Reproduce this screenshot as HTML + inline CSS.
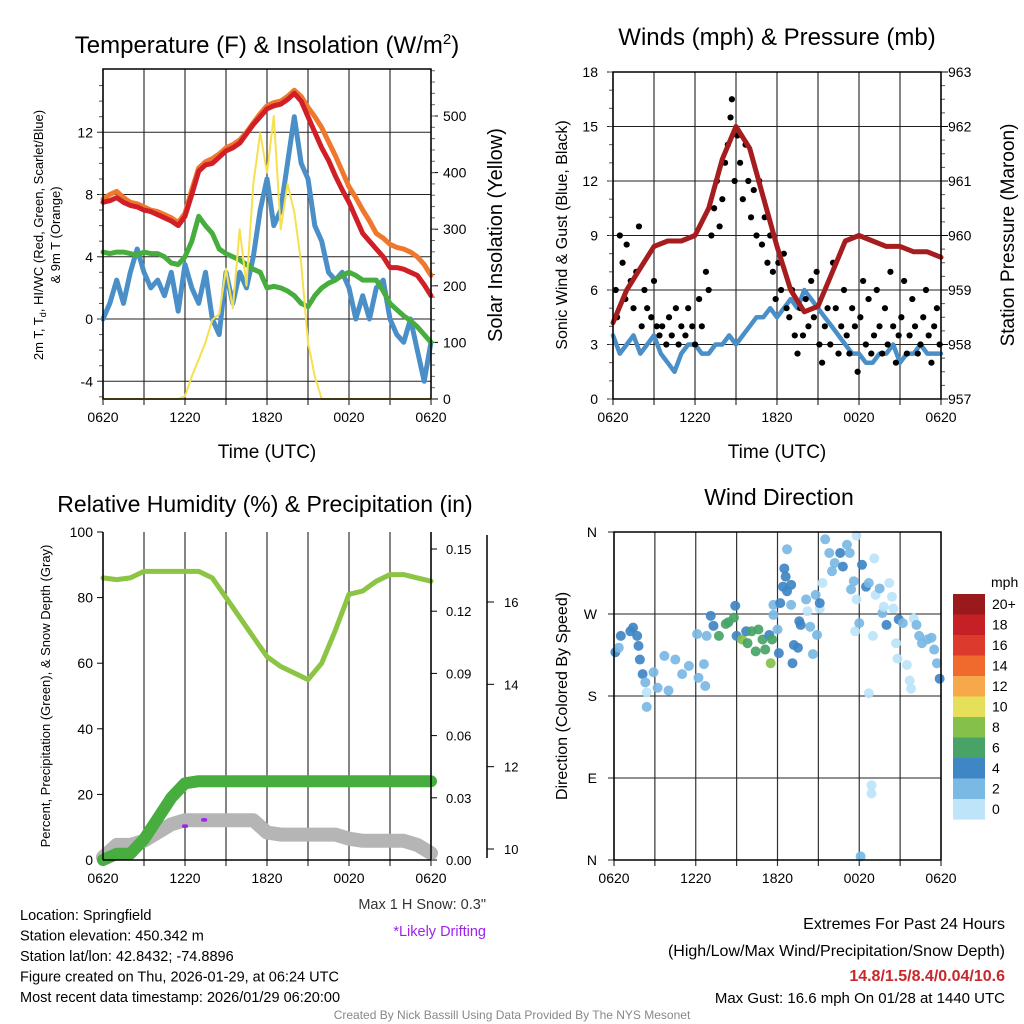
<!DOCTYPE html>
<html><head><meta charset="utf-8"><style>
body{margin:0;background:#fff}
svg{display:block;font-family:"Liberation Sans",sans-serif}
</style></head><body>
<svg id="c" width="1024" height="1024" viewBox="0 0 1024 1024" xmlns="http://www.w3.org/2000/svg"></svg>
<script>
// ---------- DATA ----------
const timeLabels=["0620","1220","1820","0020","0620"];
// panel 1 (half-hourly, hours 0..24)
const tempRed=[7.5,7.6,7.8,7.5,7.3,7.2,7.0,6.9,6.7,6.5,6.3,6.0,6.6,8.0,9.5,9.9,10.0,10.4,10.8,11.0,11.3,11.9,12.5,13.0,13.5,13.7,13.8,14.1,14.5,14.0,13.0,12.0,11.0,10.2,9.2,8.3,7.5,6.5,5.5,5.0,4.5,4.0,3.3,3.3,3.2,3.0,2.8,2.2,1.5];
const temp9m=[7.7,8.0,8.2,7.8,7.5,7.4,7.2,7.0,6.9,6.7,6.5,6.2,6.8,8.3,9.7,10.1,10.3,10.6,11.0,11.2,11.5,12.0,12.6,13.2,13.7,13.9,14.0,14.3,14.7,14.3,13.6,13.0,12.3,11.4,10.5,9.5,8.5,7.8,7.0,6.3,5.5,5.2,4.8,4.6,4.5,4.3,4.0,3.5,2.8];
const dewGreen=[4.3,4.2,4.3,4.3,4.2,4.1,4.3,4.2,4.2,4.0,3.6,3.5,4.0,5.0,6.6,6.0,5.5,4.5,4.2,4.0,3.8,3.5,3.2,3.0,2.0,2.1,2.0,1.8,1.5,1.0,0.8,1.5,2.0,2.3,2.5,2.8,3.0,2.8,2.5,2.5,2.5,1.8,1.0,0.6,0.2,-0.1,-0.5,-1.0,-1.5];
const windChill=[0,1,2.5,1,3,4.5,3,2,2.5,1.5,3,0.5,3.5,2,1,3,0,-1,3,1,3,2,4,7,9,6,7,10,13,10,9,6,5,3,2.5,3,2,0,1.5,0,2,2.5,0,-1,-1.5,0,-2,-4,-1.5];
const insolation=[0,0,0,0,0,0,0,0,0,0,0,0,5,40,70,100,140,150,230,160,300,200,380,470,400,500,300,380,330,240,100,40,0,0,0,0,0,0,0,0,0,0,0,0,0,0,0,0,0];
// panel 2
const windSpeed=[3.5,2.5,3,3.5,2.5,3,3.5,2.5,2,1.5,2.5,3,3,2.5,2.5,3,3,3.5,3,3.5,4,4.5,4.5,5,4.5,5,5.5,5,6,5.5,5,4.5,4,3.5,3,2.5,2.5,2,2,2.5,2.5,3,2,2.5,2.5,3,2.5,2.5,2.5];
const pressure=[958.4,959.0,959.4,959.8,959.9,959.9,960.0,960.5,961.4,962.0,961.6,960.7,959.8,959.0,958.6,958.7,959.3,959.9,960.0,959.9,959.8,959.8,959.7,959.7,959.6];
const gustTimes=[0.2,0.3,0.5,0.7,0.9,1.0,1.3,1.5,1.7,1.9,2.1,2.3,2.5,2.8,3.0,3.2,3.4,3.6,3.9,4.1,4.3,4.6,4.8,5.0,5.3,5.5,5.8,6.0,6.3,6.5,6.8,7.0,7.2,7.4,7.6,7.8,8.0,8.2,8.4,8.6,8.7,8.9,9.1,9.3,9.5,9.7,9.9,10.1,10.3,10.5,10.7,10.9,11.1,11.3,11.5,11.7,11.9,12.1,12.3,12.5,12.7,12.9,13.1,13.3,13.5,13.7,13.9,14.1,14.3,14.5,14.7,14.9,15.1,15.3,15.5,15.7,15.9,16.1,16.3,16.5,16.7,16.9,17.1,17.3,17.5,17.7,17.9,18.1,18.3,18.5,18.7,18.9,19.1,19.3,19.5,19.7,19.9,20.1,20.3,20.5,20.7,20.9,21.1,21.3,21.5,21.7,21.9,22.1,22.3,22.5,22.7,22.9,23.1,23.3,23.5,23.7,23.9];
const gustValues=[6,4.5,9,7.5,5.5,8.5,6.5,5,7,9.5,4,6,5,4.5,6.5,4,3.5,4,3,4.5,3.5,5,3,4,3.5,5,4,3,5.5,4,7,6,9,10.5,12,9.5,11,13,14,15.5,16.5,12,14.5,13,11,14,12,10,11.5,9,12,8.5,10,7.5,9,7,5.5,7.5,6,8,5,4.5,6,3.5,2.5,5,3.5,5.5,4,6.5,4.5,7,3,2,4,5,3,7.5,5,2.5,4,6,3.5,2.5,5,4,1.5,4.5,6.5,3,5.5,2.5,3.5,6,4,2.5,5,3,7,4,2,3.5,4.5,6.5,2.5,3.5,5.5,4,2.5,3,4.5,6,3.5,2,4,5,3];
// panel 3 (hourly)
const relHum=[86,85.5,86,88,88,88,88,88,86,80,74,68,62,59,57,55,60,70,81,82,85,87,87,86,85];
const precip=[0,0.003,0.003,0.01,0.02,0.03,0.037,0.038,0.038,0.038,0.038,0.038,0.038,0.038,0.038,0.038,0.038,0.038,0.038,0.038,0.038,0.038,0.038,0.038,0.038];
const snowDepth=[9.8,10.1,10.1,10.2,10.4,10.6,10.7,10.7,10.7,10.7,10.7,10.7,10.4,10.35,10.35,10.35,10.35,10.35,10.25,10.2,10.2,10.2,10.2,10.1,9.9];
// panel 4
const dirTimes=[0.1,0.5,0.35,1.2,1.4,1.7,1.8,1.9,2.1,2.3,2.4,2.4,2.9,3.2,3.7,4.0,4.5,5.0,5.5,6.1,6.2,6.6,6.7,6.8,7.1,7.3,7.7,8.2,8.4,8.8,8.9,9.0,9.4,9.7,9.8,10.1,10.4,10.6,10.9,11.1,11.5,11.4,11.6,12.0,12.1,11.7,11.7,12.2,12.4,12.6,12.5,12.7,13.0,12.7,13.0,13.2,13.1,13.5,13.6,13.7,14.1,14.2,14.4,14.6,14.8,14.9,15.1,15.1,15.3,15.5,15.8,16.0,16.2,16.6,16.8,17.1,17.3,17.4,17.6,17.8,17.8,17.7,18.0,18.2,18.5,18.7,18.7,18.9,18.9,18.1,19.0,19.1,19.2,19.5,19.7,19.8,20.0,20.2,20.4,20.5,20.7,20.8,20.9,21.2,21.5,21.7,21.8,22.0,22.2,22.4,22.6,23.0,23.3,23.5,23.7,23.9];
const dirValues=[228,246,233,251,255,246,235,220,204,195,184,168,206,189,224,186,220,204,213,248,200,215,191,246,268,257,246,259,261,266,279,246,242,251,238,251,229,253,242,231,216,247,242,253,227,269,280,282,300,311,320,295,302,341,280,236,216,233,262,258,286,273,256,226,291,247,276,282,304,352,337,317,326,337,322,346,337,297,306,356,286,251,260,324,300,304,183,82,73,4,246,331,291,298,271,278,258,304,289,276,238,221,264,260,214,197,188,265,258,246,238,242,244,231,216,199];
const dirSpeeds=[4,4,3,4,4,4,4,4,4,2,0,2,2,2,2,2,2,2,2,2,2,2,2,2,4,4,6,6,6,6,4,4,8,4,6,6,6,6,6,6,8,4,6,2,4,2,2,4,4,4,4,4,4,2,2,4,4,4,4,4,2,0,2,2,2,2,0,4,0,2,2,2,2,4,4,2,2,2,2,0,0,0,2,4,4,2,0,0,0,2,0,0,0,2,2,0,4,0,0,0,0,0,4,2,0,0,0,0,2,2,2,2,2,2,2,4];
const speedLabels=["20+","18","16","14","12","10","8","6","4","2","0"];
const speedColors=["#9a1a1c","#c42026","#dc3a2c","#ef6a2c","#f6a84a","#e6df5a","#84c04a","#47a466","#3f86c4","#7ab9e4","#bde4f8"];

// ---------- HELPERS ----------
const svg=document.getElementById('c');
const NS="http://www.w3.org/2000/svg";
function el(tag,attrs,parent){const e=document.createElementNS(NS,tag);for(const k in attrs)e.setAttribute(k,attrs[k]);(parent||svg).appendChild(e);return e;}
function txt(x,y,s,size,anchor,parent,extra){const t=el('text',Object.assign({x:x,y:y,'font-size':size,'text-anchor':anchor||'middle',fill:'#000'},extra||{}),parent);t.textContent=s;return t;}
function lin(a0,a1,p0,p1){return v=>p0+(v-a0)/(a1-a0)*(p1-p0);}
function hrs(n){const a=[];for(let i=0;i<n;i++)a.push(i*24/(n-1));return a;}

function panel(name,X0,X1,Y0,Y1){
  const g=el('g',{});
  
  
  const xs=lin(0,24,X0,X1);
  for(let h=0;h<=24;h+=3){
    const x=xs(h);
    const l=el('line',{x1:x,y1:Y0,x2:x,y2:Y1+6,stroke:'#333','stroke-width':1.2},g);
    
    
  }
  timeLabels.forEach((s,i)=>{
    const t=txt(xs(i*6),Y1+23,s,14,'middle',g);
    
    
  });
  return {g,xs};
}
function frame(g,X0,X1,Y0,Y1){el('rect',{x:X0,y:Y0,width:X1-X0,height:Y1-Y0,fill:'none',stroke:'#000','stroke-width':1.5},g);}
function hgrid(g,X0,X1,ys,vals,labels,lx,size){
  vals.forEach((v,i)=>{
    const y=ys(v);
    el('line',{x1:X0-6,y1:y,x2:X1,y2:y,stroke:'#222','stroke-width':1},g);
    const t=txt(lx,y+5,labels[i],size||14,'end',g);
    
    
  });
}
function minor(g,x,ys,a,b,step,dir){for(let v=a;v<=b+1e-9;v+=step){const y=ys(v);el('line',{x1:x,y1:y,x2:x+dir*4,y2:y,stroke:'#555'},g);}}
function path(g,xs,ys,T,V,attrs,name){
  const d=V.map((v,i)=>(i?'L':'M')+xs(T[i]).toFixed(1)+' '+ys(v).toFixed(1)).join(' ');
  const p=el('path',Object.assign({d:d,fill:'none','stroke-linejoin':'round','stroke-linecap':'round'},attrs),g);
  
  
  return p;
}
function rtext(x,y,s,size,parent){const t=txt(0,0,s,size,'middle',parent,{transform:`translate(${x},${y}) rotate(-90)`});return t;}

// ---------- PANEL 1 ----------
(function(){
  const X0=103,X1=431,Y0=69,Y1=399;
  const {g,xs}=panel('temperature-panel',X0,X1,Y0,Y1);
  const ys=lin(0,16,319,70);
  const yr=lin(0,500,399,116);
  hgrid(g,X0,X1,ys,[-4,0,4,8,12],["-4","0","4","8","12"],93);
  minor(g,X0,ys,-5,15.5,1,-1);
  [0,100,200,300,400,500].forEach(v=>{const y=yr(v);el('line',{x1:X1,y1:y,x2:X1+7,y2:y,stroke:'#000'},g);const t=txt(X1+12,y+5,String(v),14,'start',g);});
  for(let v=20;v<=580;v+=20){const y=yr(v);el('line',{x1:X1,y1:y,x2:X1+4,y2:y,stroke:'#666'},g);}
  const T=hrs(49);
  path(g,xs,ys,T,windChill,{stroke:'#4a8fc8','stroke-width':5},'wind-chill-line');
  path(g,xs,ys,T,dewGreen,{stroke:'#46ad3e','stroke-width':5},'dewpoint-line');
  path(g,xs,ys,T,temp9m,{stroke:'#f0782e','stroke-width':5},'temp-9m-line');
  path(g,xs,ys,T,tempRed,{stroke:'#d11f27','stroke-width':5},'temp-2m-line');
  path(g,xs,yr,T,insolation,{stroke:'#f7e04e','stroke-width':2},'insolation-line');
  frame(g,X0,X1,Y0,Y1);
  const t1=txt(267,53,'',24,'middle',g);t1.innerHTML='Temperature (F) &amp; Insolation (W/m<tspan dy="-9" font-size="15">2</tspan><tspan dy="9">)</tspan>';
  
  const xt=txt(267,458,'Time (UTC)',19,'middle',g);
  const a=rtext(43,235,'',13,g);a.innerHTML='2m T, T<tspan dy="3" font-size="9">d</tspan><tspan dy="-3">, HI/WC (Red, Green, Scarlet/Blue)</tspan>';
  
  const b=rtext(60,235,'& 9m T (Orange)',13,g);
  const c=rtext(502,235,'Solar Insolation (Yellow)',20,g);
})();

// ---------- PANEL 2 ----------
(function(){
  const X0=613,X1=941,Y0=72,Y1=399;
  const {g,xs}=panel('wind-pressure-panel',X0,X1,Y0,Y1);
  const ys=lin(0,18,399,72);
  const yr=lin(957,963,399,72);
  hgrid(g,X0,X1,ys,[0,3,6,9,12,15,18],["0","3","6","9","12","15","18"],598);
  minor(g,X0,ys,0,18,1,-1);
  minor(g,X1,yr,957,963,0.25,1);
  [957,958,959,960,961,962,963].forEach(v=>{const y=yr(v);el('line',{x1:X1,y1:y,x2:X1+7,y2:y,stroke:'#000'},g);const t=txt(X1+7,y+5,String(v),14,'start',g);});
  path(g,xs,ys,hrs(windSpeed.length),windSpeed,{stroke:'#4a8fc8','stroke-width':4.5},'wind-speed-line');
  gustValues.forEach((v,i)=>{const c=el('circle',{cx:xs(gustTimes[i]),cy:ys(v),r:3.1,fill:'#000'},g);
    
    });
  path(g,xs,yr,hrs(pressure.length),pressure,{stroke:'#a51d1f','stroke-width':5},'pressure-line');
  frame(g,X0,X1,Y0,Y1);
  const t1=txt(777,45,'Winds (mph) & Pressure (mb)',24,'middle',g);
  const xt=txt(777,458,'Time (UTC)',19,'middle',g);
  const a=rtext(567,235,'Sonic Wind & Gust (Blue, Black)',16,g);
  const c=rtext(1014,235,'Station Pressure (Maroon)',19,g);
})();

// ---------- PANEL 3 ----------
(function(){
  const X0=103,X1=431,Y0=532,Y1=860;
  const {g,xs}=panel('humidity-precip-panel',X0,X1,Y0,Y1);
  const ys=lin(0,100,860,532);
  const yp=lin(0,0.15,860,549);
  const yd=lin(10,16,849,602);
  [0,20,40,60,80,100].forEach(v=>{const y=ys(v);el('line',{x1:X0-6,y1:y,x2:X0,y2:y,stroke:'#000'},g);const t=txt(93,y+5,String(v),14,'end',g);});
  ['0.00','0.03','0.06','0.09','0.12','0.15'].forEach(s=>{const y=yp(parseFloat(s));el('line',{x1:X1,y1:y,x2:X1+6,y2:y,stroke:'#000'},g);const t=txt(X1+15,y+5,s,13,'start',g);});
  el('line',{x1:487,y1:535,x2:487,y2:858,stroke:'#000','stroke-width':1.5},g);
  [10,12,14,16].forEach(v=>{const y=yd(v);el('line',{x1:487,y1:y,x2:494,y2:y,stroke:'#000'},g);const t=txt(504,y+5,String(v),13,'start',g);});
  const T=hrs(25);
  path(g,xs,yd,T,snowDepth,{stroke:'#b5b5b5','stroke-width':14},'snow-depth-line');
  path(g,xs,yp,T,precip,{stroke:'#46ad3e','stroke-width':12},'precip-line');
  path(g,xs,ys,T,relHum,{stroke:'#8cc443','stroke-width':5},'rh-line');
  [[6,10.55],[7.4,10.7]].forEach(p=>{const r=el('rect',{x:xs(p[0])-3,y:yd(p[1])-2,width:6,height:3.5,rx:1.5,fill:'#a020f0'},g);
    });
  el('line',{x1:X0,y1:Y0,x2:X0,y2:Y1,stroke:'#000','stroke-width':1.5},g);
  el('line',{x1:X0,y1:Y1,x2:X1,y2:Y1,stroke:'#000','stroke-width':1.5},g);
  el('line',{x1:X1,y1:Y0,x2:X1,y2:Y1,stroke:'#000','stroke-width':1.5},g);
  const t1=txt(265,512,'Relative Humidity (%) & Precipitation (in)',23,'middle',g);
  const a=rtext(50,696,'Percent, Precipitation (Green), & Snow Depth (Gray)',13,g);
})();

// ---------- PANEL 4 ----------
(function(){
  const X0=614,X1=941,Y0=532,Y1=860;
  const {g,xs}=panel('wind-direction-panel',X0,X1,Y0,Y1);
  const ys=lin(0,360,860,532);
  hgrid(g,X0,X1,ys,[0,90,180,270,360],["N","E","S","W","N"],597);
  dirValues.forEach((v,i)=>{
    const idx=Math.max(0,Math.min(10,10-Math.floor(dirSpeeds[i]/2)));
    const c=el('circle',{cx:xs(dirTimes[i]),cy:ys(v),r:5,fill:speedColors[idx],opacity:0.92},g);
    
    
  });
  frame(g,X0,X1,Y0,Y1);
  const t1=txt(779,505,'Wind Direction',23,'middle',g);
  const a=rtext(567,696,'Direction (Colored By Speed)',16,g);
  const lg=el('g',{},svg);
  
  
  txt(991,587,'mph',14,'start',lg);
  speedLabels.forEach((s,i)=>{
    const y=594+i*20.5;
    const r=el('rect',{x:953,y:y,width:32,height:20.6,fill:speedColors[i]},lg);
    
    
    txt(992,y+15,s,14,'start',lg);
  });
})();

// ---------- FOOTER TEXT ----------
(function(){
  const g=el('g',{});
  
  
  ['Location: Springfield','Station elevation: 450.342 m','Station lat/lon: 42.8432; -74.8896','Figure created on Thu, 2026-01-29, at 06:24 UTC','Most recent data timestamp: 2026/01/29 06:20:00'].forEach((s,i)=>txt(20,920+i*20.5,s,14.5,'start',g));
  txt(486,909,'Max 1 H Snow: 0.3"',14.5,'end',g,{fill:'#333'});
  txt(486,936,'*Likely Drifting',14.5,'end',g,{fill:'#a020f0'});
  const h=el('g',{});
  
  
  txt(1005,929,'Extremes For Past 24 Hours',16,'end',h);
  txt(1005,956,'(High/Low/Max Wind/Precipitation/Snow Depth)',16,'end',h);
  txt(1005,981,'14.8/1.5/8.4/0.04/10.6',16,'end',h,{fill:'#c8282b','font-weight':'bold'});
  txt(1005,1003,'Max Gust: 16.6 mph On 01/28 at 1440 UTC',15,'end',h);
  const f=txt(512,1019,'Created By Nick Bassill Using Data Provided By The NYS Mesonet',12,'middle',null,{fill:'#888'});
  
  
})();
</script>
</body></html>
